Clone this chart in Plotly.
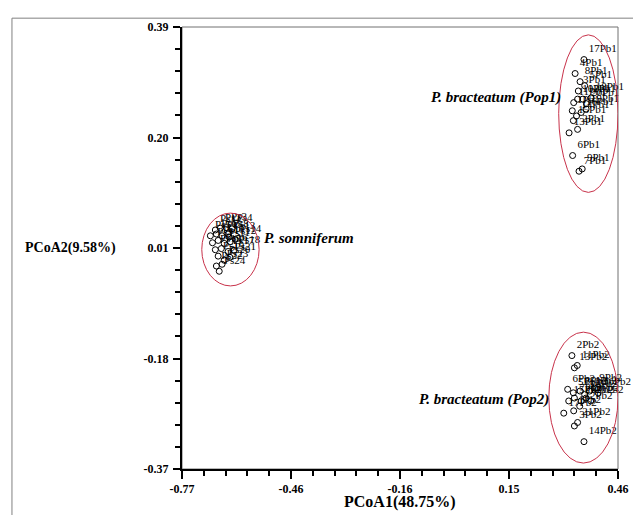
import plotly.graph_objects as go

# ---------------- data ----------------
pop1_labels = ["17Pb1", "4Pb1", "8Pb1", "3Pb1", "5Pb1", "11Pb1", "10Pb1", "12Pb1", "18Pb1", "20Pb1",
               "1Pb1", "16Pb1", "19Pb1", "14Pb1", "15Pb1", "2Pb1", "13Pb1", "6Pb1", "7Pb1", "9Pb1"]
pop1_x = [0.364, 0.339, 0.353, 0.348, 0.366, 0.335, 0.346, 0.361, 0.384, 0.371,
          0.331, 0.356, 0.370, 0.343, 0.334, 0.346, 0.322, 0.332, 0.350, 0.359]
pop1_y = [0.334, 0.310, 0.296, 0.280, 0.289, 0.260, 0.266, 0.266, 0.268, 0.258,
          0.246, 0.243, 0.249, 0.237, 0.229, 0.214, 0.208, 0.169, 0.142, 0.146]

pop2_labels = ["2Pb2", "13Pb2", "11Pb2", "6Pb2", "5Pb2", "8Pb2", "10Pb2", "4Pb2", "9Pb2", "16Pb2",
               "7Pb2", "18Pb2", "19Pb2", "20Pb2", "12Pb2", "15Pb2", "17Pb2", "1Pb2", "3Pb2", "21Pb2", "14Pb2"]
pop2_x = [0.330, 0.337, 0.345, 0.318, 0.334, 0.353, 0.366, 0.380, 0.394, 0.404,
          0.337, 0.356, 0.370, 0.383, 0.352, 0.321, 0.307, 0.335, 0.337, 0.346, 0.364]
pop2_y = [-0.175, -0.196, -0.192, -0.233, -0.239, -0.236, -0.242, -0.236, -0.231, -0.239,
          -0.248, -0.253, -0.248, -0.253, -0.262, -0.253, -0.274, -0.270, -0.296, -0.290, -0.323]

ps_labels = ["Ps1", "Ps2", "Ps3", "Ps4", "Ps5", "Ps6", "Ps7", "Ps8", "Ps9", "Ps10", "Ps11", "Ps12",
             "Ps13", "Ps14", "Ps15", "Ps16", "Ps17", "Ps18", "Ps19", "Ps20", "Ps21", "Ps22", "Ps23", "Ps24"]
ps_x = [-0.676, -0.662, -0.645, -0.629, -0.690, -0.673, -0.657, -0.640, -0.684, -0.668, -0.651, -0.634,
        -0.637, -0.620, -0.676, -0.659, -0.640, -0.623, -0.668, -0.651, -0.635, -0.673, -0.657, -0.665]
ps_y = [0.041, 0.044, 0.045, 0.043, 0.031, 0.034, 0.031, 0.034, 0.019, 0.023, 0.018, 0.021,
        0.029, 0.025, 0.007, 0.009, 0.004, 0.006, -0.004, -0.011, -0.006, -0.021, -0.018, -0.030]

x_tick_labels = ["-0.77", "-0.46", "-0.16", "0.15", "0.46"]
y_tick_labels = ["-0.37", "-0.18", "0.01", "0.20", "0.39"]
x_title = "PCoA1(48.75%)"
y_title = "PCoA2(9.58%)"
group_names = ["P. bracteatum (Pop1)", "P. somniferum", "P. bracteatum (Pop2)"]

# ---------------- figure ----------------
SERIF = "Liberation Serif, Times New Roman, serif"
xmin, xmax = float(x_tick_labels[0]), float(x_tick_labels[-1])
ymin, ymax = float(y_tick_labels[0]), float(y_tick_labels[-1])
xstep = (xmax - xmin) / (len(x_tick_labels) - 1)
ystep = (ymax - ymin) / (len(y_tick_labels) - 1)

fig = go.Figure()
for xs, ys, labs in [(pop1_x, pop1_y, pop1_labels), (ps_x, ps_y, ps_labels), (pop2_x, pop2_y, pop2_labels)]:
    fig.add_trace(go.Scatter(
        x=xs, y=ys, text=labs, mode="markers+text", textposition="top right",
        textfont=dict(family=SERIF, size=11, color="black"),
        marker=dict(symbol="circle-open", size=6, color="black", line=dict(width=1)),
        showlegend=False, cliponaxis=False, hoverinfo="text"))

ell_col = "#c8324a"
ellipses = [(0.2927, 0.1056, 0.460, 0.3765), (-0.7142, -0.0552, -0.5525, 0.070), (0.2648, -0.3598, 0.460, -0.1347)]
shapes = []
for x0, y0, x1, y1 in ellipses:
    shapes.append(dict(type="circle", xref="x", yref="y", x0=x0, y0=y0, x1=x1, y1=y1,
                       line=dict(color=ell_col, width=1)))
# gray plot box (top/right)
shapes.append(dict(type="rect", xref="paper", yref="paper", x0=0, y0=0, x1=1, y1=1,
                   line=dict(color="#707070", width=1), layer="below"))
# outer frame (left/top)
shapes.append(dict(type="line", xref="paper", yref="paper", x0=-0.39, x1=-0.39, y0=-0.11, y1=1.02,
                   line=dict(color="#808080", width=1)))
shapes.append(dict(type="line", xref="paper", yref="paper", x0=-0.39, x1=1.05, y0=1.02, y1=1.02,
                   line=dict(color="#808080", width=1)))

annotations = [
    dict(text=f"<b><i>{group_names[0]}</i></b>", x=0.304, y=0.268, xref="x", yref="y",
         xanchor="right", yanchor="middle", showarrow=False, font=dict(family=SERIF, size=15, color="black")),
    dict(text=f"<b><i>{group_names[1]}</i></b>", x=-0.544, y=0.028, xref="x", yref="y",
         xanchor="left", yanchor="middle", showarrow=False, font=dict(family=SERIF, size=15, color="black")),
    dict(text=f"<b><i>{group_names[2]}</i></b>", x=0.270, y=-0.251, xref="x", yref="y",
         xanchor="right", yanchor="middle", showarrow=False, font=dict(family=SERIF, size=15, color="black")),
    dict(text=f"<b>{x_title}</b>", x=0.5, y=-0.0757, xref="paper", yref="paper",
         xanchor="center", yanchor="middle", showarrow=False, font=dict(family=SERIF, size=16, color="black")),
    dict(text=f"<b>{y_title}</b>", x=-0.364, y=0.50, xref="paper", yref="paper",
         xanchor="left", yanchor="middle", showarrow=False, font=dict(family=SERIF, size=14, color="black")),
]

fig.update_layout(
    width=633, height=507,
    margin=dict(l=174, r=18, t=12, b=46),
    paper_bgcolor="white", plot_bgcolor="white",
    shapes=shapes, annotations=annotations,
    xaxis=dict(range=[xmin, xmax], showgrid=False, zeroline=False,
               tickmode="array", tickvals=[xmin + i * xstep for i in range(len(x_tick_labels))],
               ticktext=x_tick_labels, ticks="outside", ticklen=8, tickwidth=1.5, tickcolor="black",
               showline=True, linecolor="black", linewidth=2,
               tickfont=dict(family=SERIF, size=12, color="black", weight="bold"),
               minor=dict(tickmode="linear", tick0=xmin, dtick=xstep / 5, ticks="outside",
                          ticklen=5, tickwidth=1.5, tickcolor="black")),
    yaxis=dict(range=[ymin, ymax], showgrid=False, zeroline=False,
               tickmode="array", tickvals=[ymin + i * ystep for i in range(len(y_tick_labels))],
               ticktext=y_tick_labels, ticks="outside", ticklen=7, tickwidth=1.5, tickcolor="black",
               showline=True, linecolor="black", linewidth=2, ticklabelstandoff=2,
               tickfont=dict(family=SERIF, size=12, color="black", weight="bold"),
               minor=dict(tickmode="linear", tick0=ymin, dtick=ystep / 5, ticks="outside",
                          ticklen=5, tickwidth=1.5, tickcolor="black")),
)

fig.write_html("out.html")
